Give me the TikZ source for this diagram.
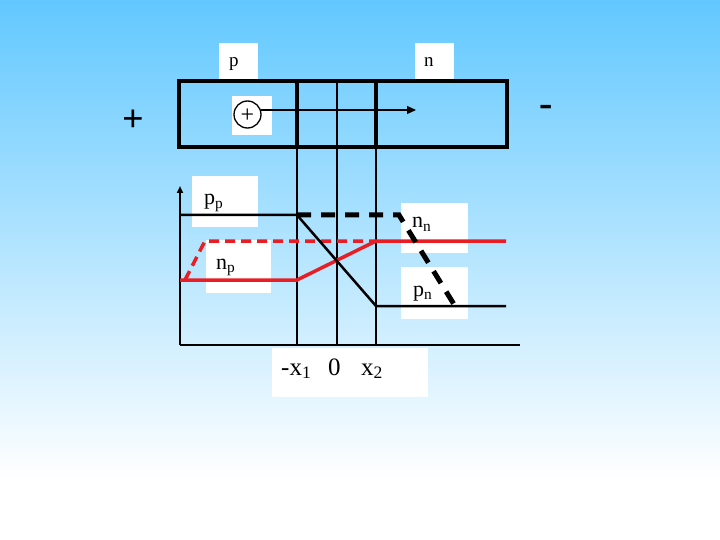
\documentclass[tikz,border=0pt]{standalone}
\usepackage{fontspec}
\setmainfont{Liberation Serif}
\usetikzlibrary{arrows.meta}
\definecolor{bgtop}{RGB}{98,200,255}
\definecolor{myred}{RGB}{232,30,36}
\tikzset{
  lbl/.style={fill=white, draw=none, inner sep=0pt},
  thin line/.style={line width=1.5pt, black},
  thick frame/.style={line width=4.5pt, black},
  curve black/.style={line width=2.5pt, black},
  curve red/.style={line width=3.5pt, myred},
  dash black/.style={line width=5pt, black, dash pattern=on 14pt off 10pt},
  dash red/.style={line width=3.5pt, myred, dash pattern=on 10pt off 6pt},
  txt/.style={inner sep=0pt, anchor=base west, font=\fontsize{22}{26}\selectfont},
}
\begin{document}
\begin{tikzpicture}[x=1pt,y=-1pt]
\useasboundingbox (0,0) rectangle (720,540);
% background
\fill[white] (0,0) rectangle (720,540);
\shade[top color=bgtop, bottom color=white] (0,0) rectangle (720,480);

% white label boxes
\fill[white] (219,43) rectangle (258,79);
\fill[white] (415,43) rectangle (454,79);
\fill[white] (232,96) rectangle (272,135);
\fill[white] (192,176) rectangle (258,227);
\fill[white] (206,240) rectangle (271,293);
\fill[white] (401,203) rectangle (468,253);
\fill[white] (401,267) rectangle (468,319);
\fill[white] (272,348) rectangle (428,397);

% key coordinates
\coordinate (ax0) at (180,345);
\coordinate (axy) at (180,186);
\coordinate (axx) at (520,345);
\coordinate (ppL) at (180,215);
\coordinate (ppR) at (297,215);
\coordinate (pnL) at (376,306);
\coordinate (pnR) at (506,306);
\coordinate (npL) at (180,280);
\coordinate (npR) at (297,280);
\coordinate (nnL) at (376,241);
\coordinate (nnR) at (506,241);

% vertical lines
\draw[thin line] (297,147) -- (297,345);
\draw[thin line] (337,81) -- (337,345);
\draw[thin line] (376,147) -- (376,345);

% top bar
\draw[thick frame] (179,81) rectangle (507,147);
\draw[thick frame] (297,81) -- (297,147);
\draw[thick frame] (376,81) -- (376,147);

% circle plus and arrow
\draw[line width=1.3pt] (247.5,114.5) circle (13.5);
\node[inner sep=0pt, font=\fontsize{24}{24}\selectfont] (cp) at (247.5,116) {+};
\coordinate (arS) at (261,110);
\coordinate (arE) at (416,110);
\draw[line width=1.3pt, -{Triangle[length=9pt,width=8pt]}] (arS) -- (arE);

% axes
\draw[line width=2.8pt] (axx) -- (ax0);
\draw[line width=2.2pt, -{Triangle[length=7pt,width=6pt]}] (ax0) -- (axy);

% curves
\draw[dash red] (185,280) -- (205,241) -- (nnL);
\draw[curve red] (npL) -- (npR) -- (nnL) -- (nnR);
\draw[curve black] (ppL) -- (ppR) -- (pnL) -- (pnR);
\draw[dash black] (ppR) -- (399,215) -- (455,306);

% texts
\node[inner sep=0pt, anchor=base west, font=\fontsize{19}{22}\selectfont] (tp) at (229,67) {p};
\node[inner sep=0pt, anchor=base west, font=\fontsize{19}{22}\selectfont] (tn) at (424,67) {n};
\node[inner sep=0pt, font=\fontsize{38}{40}\selectfont\bfseries] (plus) at (133,121) {+};
\node[inner sep=0pt, font=\fontsize{40}{40}\selectfont\bfseries] (minus) at (546,111) {-};
\node[txt] (tpp) at (204,205) {p\textsubscript{p}};
\node[txt] (tnp) at (216,269) {n\textsubscript{p}};
\node[txt] (tnn) at (412,228) {n\textsubscript{n}};
\node[txt] (tpn) at (413,296) {p\textsubscript{n}};
\node[txt, font=\fontsize{25}{28}\selectfont] (tx1) at (281,375) {-x\textsubscript{1}};
\node[txt, font=\fontsize{25}{28}\selectfont] (t0) at (328,375) {0};
\node[txt, font=\fontsize{25}{28}\selectfont] (tx2) at (361,375) {x\textsubscript{2}};
\end{tikzpicture}
\end{document}
